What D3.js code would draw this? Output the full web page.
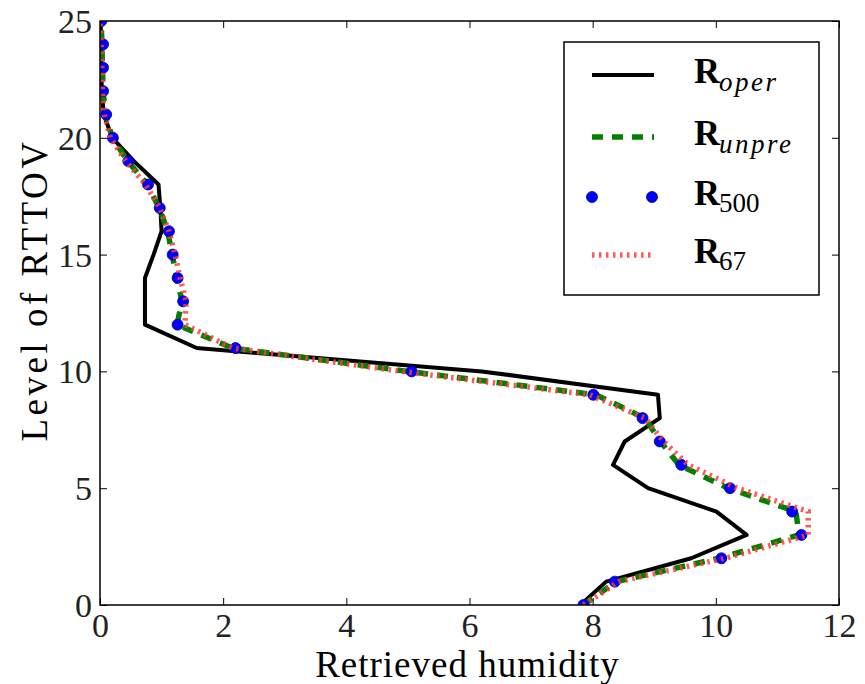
<!DOCTYPE html>
<html>
<head>
<meta charset="utf-8">
<script src="https://cdn.jsdelivr.net/npm/d3@7"></script>
</head>
<body style="margin:0">
<div class="chart"></div>
<script>
// Levels of RTTOV (y) and retrieved humidity per series (x)
const levels = d3.range(0, 26);
const rOper  = [7.80, 8.22, 9.60, 10.50, 10.01, 8.90, 8.33, 8.52, 9.09, 9.06, 6.20, 1.57, 0.73, 0.73, 0.73, 0.87, 1.00, 0.98, 0.95, 0.55, 0.20, 0.06, 0.03, 0.02, 0.02, 0.01];
const rUnpre = [7.85, 8.38, 10.05, 11.35, 11.30, 10.20, 9.40, 9.10, 8.85, 8.05, 5.00, 2.15, 1.25, 1.33, 1.25, 1.17, 1.10, 0.96, 0.77, 0.45, 0.20, 0.09, 0.05, 0.04, 0.03, 0.02];
const r500   = [7.85, 8.36, 10.09, 11.39, 11.24, 10.23, 9.44, 9.09, 8.81, 8.01, 5.06, 2.20, 1.26, 1.35, 1.26, 1.18, 1.12, 0.97, 0.78, 0.46, 0.21, 0.10, 0.05, 0.05, 0.05, 0.02];
const r67    = [7.85, 8.42, 10.15, 11.50, 11.50, 10.35, 9.55, 9.15, 8.85, 7.95, 4.90, 2.15, 1.38, 1.40, 1.30, 1.22, 1.12, 0.97, 0.74, 0.42, 0.17, 0.07, 0.04, 0.03, 0.02, 0.00];

const xTicks = [0, 2, 4, 6, 8, 10, 12];
const yTicks = [0, 5, 10, 15, 20, 25];
const legendLabels = [['R', 'oper', true], ['R', 'unpre', true], ['R', '500', false], ['R', '67', false]];

const serif = "'Liberation Serif', 'Times New Roman', serif";

const width = 865, height = 684;
const margin = {top: 21, right: 26, bottom: 79, left: 100};
const plotW = width - margin.left - margin.right;
const plotH = height - margin.top - margin.bottom;

const svg = d3.select('.chart').append('svg')
    .attr('width', width)
    .attr('height', height);

const x = d3.scaleLinear().domain([0, 12]).range([margin.left, margin.left + plotW]);
const y = d3.scaleLinear().domain([0, 25]).range([margin.top + plotH, margin.top]);

// Text helper: serif set directly on every text element
const addText = (parent, size) => parent.append('text')
    .attr('font-family', serif)
    .style('font-family', serif)
    .attr('font-size', size)
    .attr('fill', '#000');

// Axis labels
addText(svg, 37)
    .attr('x', (margin.left + margin.left + plotW) / 2 - 2)
    .attr('y', 677)
    .attr('text-anchor', 'middle')
    .attr('letter-spacing', 1)
    .text('Retrieved humidity');

addText(svg, 37)
    .attr('transform', 'translate(47,290) rotate(-90)')
    .attr('text-anchor', 'middle')
    .attr('letter-spacing', 3.5)
    .text('Level of RTTOV');

svg.append('clipPath').attr('id', 'plotclip')
    .append('rect')
    .attr('x', margin.left).attr('y', margin.top)
    .attr('width', plotW).attr('height', plotH);

// Axes with inward ticks on all four sides
const axisB = svg.append('g')
    .attr('transform', 'translate(0,' + (margin.top + plotH) + ')')
    .call(d3.axisBottom(x).tickValues(xTicks).tickSize(-7).tickFormat(d3.format('d')));
axisB.selectAll('text').attr('y', 32).attr('dy', 0);

const axisT = svg.append('g')
    .attr('transform', 'translate(0,' + margin.top + ')')
    .call(d3.axisTop(x).tickValues(xTicks).tickSize(-7).tickFormat(''));

const axisL = svg.append('g')
    .attr('transform', 'translate(' + margin.left + ',0)')
    .call(d3.axisLeft(y).tickValues(yTicks).tickSize(-7).tickFormat(d3.format('d')));
axisL.selectAll('text').attr('x', -8).attr('dy', '0.34em');

const axisR = svg.append('g')
    .attr('transform', 'translate(' + (margin.left + plotW) + ',0)')
    .call(d3.axisRight(y).tickValues(yTicks).tickSize(-7).tickFormat(''));

[axisB, axisT, axisL, axisR].forEach(a => {
    a.attr('font-family', serif).attr('font-size', 34);
    a.select('.domain').remove();
    a.selectAll('line').attr('stroke', '#000').attr('stroke-width', 1);
    a.selectAll('text').attr('fill', '#222');
});

// Series
const plot = svg.append('g').attr('clip-path', 'url(#plotclip)');

const line = d3.line()
    .x(d => x(d[0]))
    .y(d => y(d[1]));

const pairs = arr => arr.map((v, i) => [v, levels[i]]);

plot.append('path')
    .attr('d', line(pairs(rOper)))
    .attr('fill', 'none')
    .attr('stroke', '#000')
    .attr('stroke-width', 4)
    .attr('stroke-linejoin', 'round');

plot.append('path')
    .attr('d', line(pairs(rUnpre)))
    .attr('fill', 'none')
    .attr('stroke', '#008000')
    .attr('stroke-width', 5.5)
    .attr('stroke-dasharray', '11,9');

plot.selectAll('circle.r500')
    .data(pairs(r500))
    .enter().append('circle')
    .attr('class', 'r500')
    .attr('cx', d => x(d[0]))
    .attr('cy', d => y(d[1]))
    .attr('r', 5.5)
    .attr('fill', '#0000ff')
    .attr('stroke', '#00008b')
    .attr('stroke-width', 0.8);

plot.append('path')
    .attr('d', line(pairs(r67)))
    .attr('fill', 'none')
    .attr('stroke', '#ff3c3c')
    .attr('stroke-opacity', 0.85)
    .attr('stroke-width', 5.5)
    .attr('stroke-dasharray', '2.5,4.5');

// Frame
svg.append('rect')
    .attr('x', margin.left).attr('y', margin.top)
    .attr('width', plotW).attr('height', plotH)
    .attr('fill', 'none')
    .attr('stroke', '#000')
    .attr('stroke-width', 1.5);

// Legend
const legend = svg.append('g');

legend.append('rect')
    .attr('x', 564).attr('y', 42)
    .attr('width', 255).attr('height', 253)
    .attr('fill', '#fff')
    .attr('stroke', '#000')
    .attr('stroke-width', 1.5);

const rowY = [75, 137, 197, 255];
const hx0 = 592, hx1 = 654;

legend.append('line')
    .attr('x1', hx0).attr('x2', hx1).attr('y1', rowY[0]).attr('y2', rowY[0])
    .attr('stroke', '#000').attr('stroke-width', 4);

legend.append('line')
    .attr('x1', hx0).attr('x2', hx1).attr('y1', rowY[1]).attr('y2', rowY[1])
    .attr('stroke', '#008000').attr('stroke-width', 5.5)
    .attr('stroke-dasharray', '11,9');

legend.selectAll('circle')
    .data([hx0, hx1 - 2])
    .enter().append('circle')
    .attr('cx', d => d).attr('cy', rowY[2]).attr('r', 5.5)
    .attr('fill', '#0000ff').attr('stroke', '#00008b').attr('stroke-width', 0.8);

legend.append('line')
    .attr('x1', hx0).attr('x2', hx1 - 3).attr('y1', rowY[3]).attr('y2', rowY[3])
    .attr('stroke', '#ff3c3c').attr('stroke-opacity', 0.85).attr('stroke-width', 5.5)
    .attr('stroke-dasharray', '2.5,4.5');

legendLabels.forEach((lab, i) => {
    addText(legend, 36)
        .attr('x', 694)
        .attr('y', rowY[i] + 8)
        .attr('font-weight', 'bold')
        .text(lab[0]);
    addText(legend, 27)
        .attr('x', 719)
        .attr('y', rowY[i] + (lab[2] ? 16 : 15))
        .attr('font-style', lab[2] ? 'italic' : 'normal')
        .attr('letter-spacing', lab[2] ? 2.5 : 0)
        .text(lab[1]);
});
</script>
</body>
</html>
